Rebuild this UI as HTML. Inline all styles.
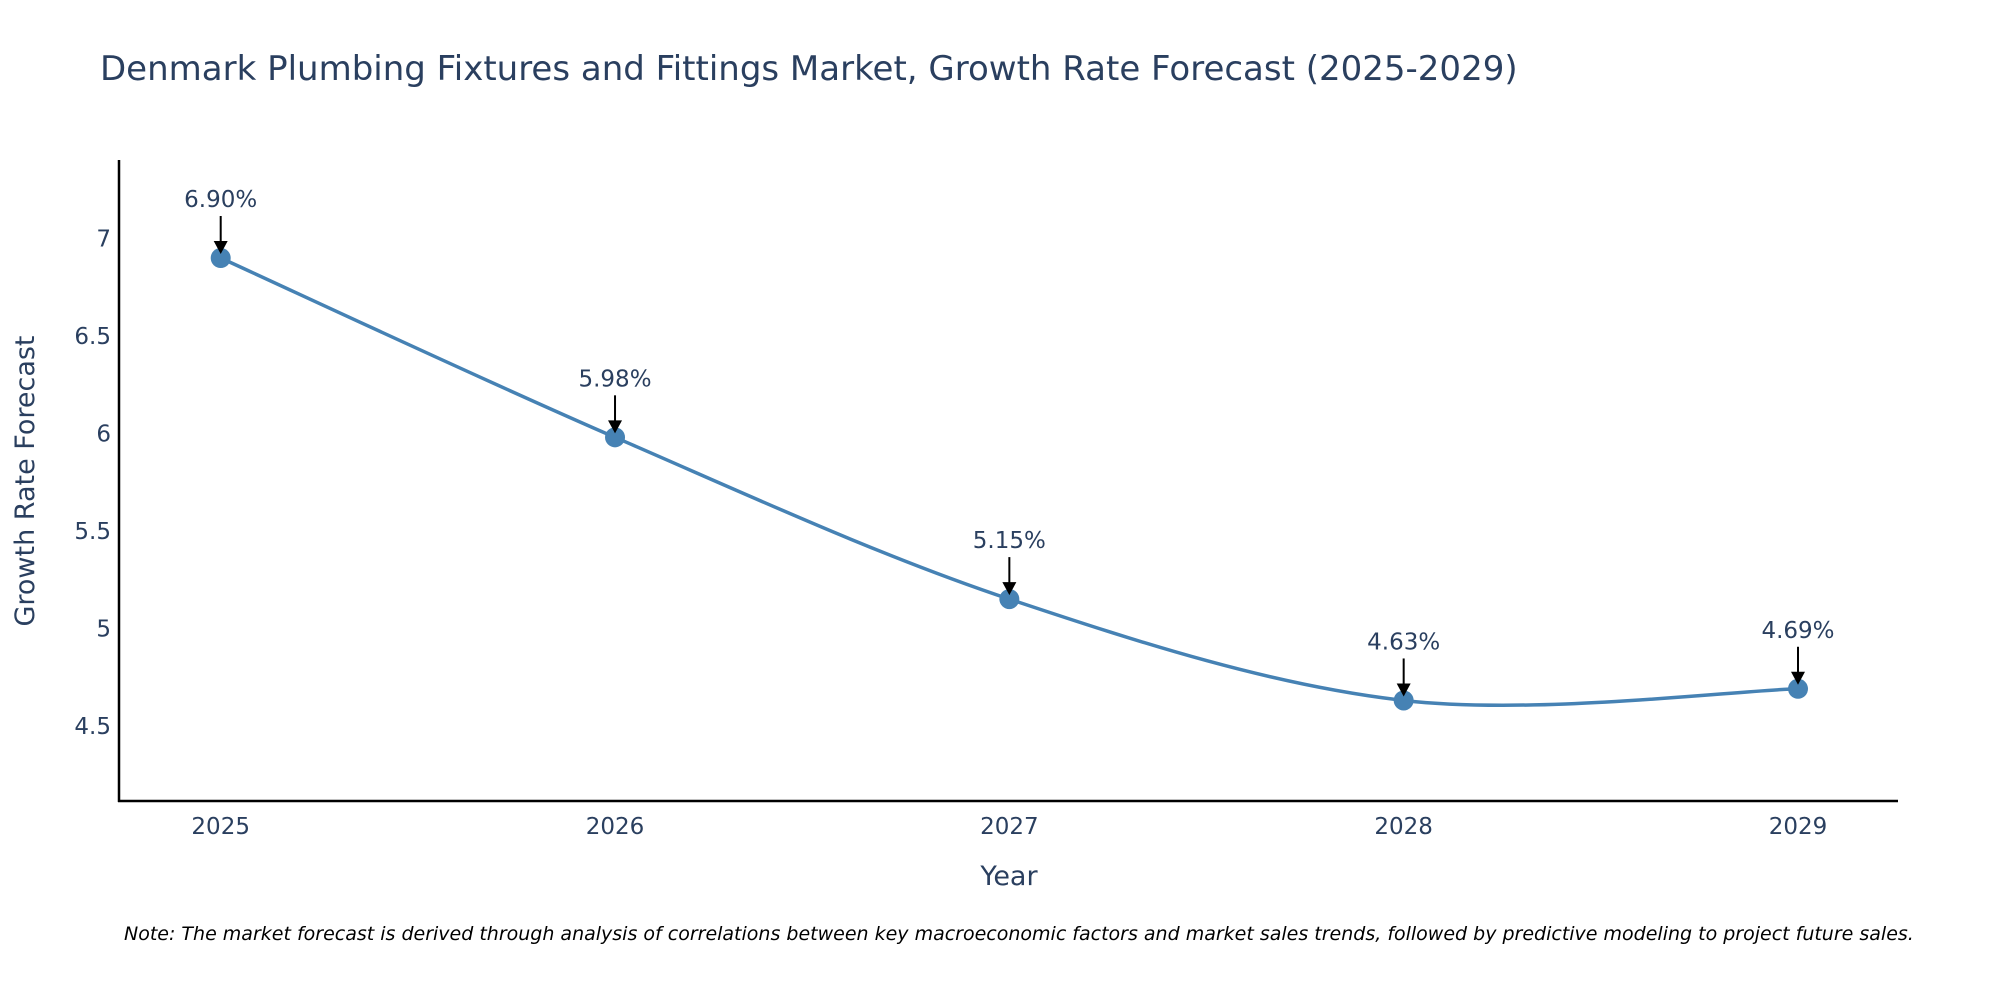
<!DOCTYPE html>
<html><head><meta charset="utf-8"><style>
html,body{margin:0;padding:0;background:#fff;}
svg{display:block;font-family:"DejaVu Sans","Liberation Sans",sans-serif;}
</style></head><body>
<svg id="chart" width="2000" height="1000" viewBox="0 0 2000 1000">
<text x="100" y="80" font-size="34" fill="#2a3f5f">Denmark Plumbing Fixtures and Fittings Market, Growth Rate Forecast (2025-2029)</text>
<g id="yticks"></g>
<g id="xticks"></g>
<line x1="119" y1="160" x2="119" y2="802" stroke="#000" stroke-width="2.5"/>
<line x1="118" y1="801" x2="1898" y2="801" stroke="#000" stroke-width="2.5"/>
<path id="line" fill="none" stroke="#4682b4" stroke-width="3.5"/>
<g id="marks"></g>
<text x="1009" y="885" font-size="27" fill="#2a3f5f" text-anchor="middle">Year</text>
<text transform="translate(34,481) rotate(-90)" font-size="27" fill="#2a3f5f" text-anchor="middle">Growth Rate Forecast</text>
<text x="124" y="940" font-size="19" font-style="italic" fill="#000">Note: The market forecast is derived through analysis of correlations between key macroeconomic factors and market sales trends, followed by predictive modeling to project future sales.</text>
</svg>
<script>
const years=[2025,2026,2027,2028,2029];
const values=[6.90,5.98,5.15,4.63,4.69];
const labels=["6.90%","5.98%","5.15%","4.63%","4.69%"];
const yTicks=[4.5,5,5.5,6,6.5,7];
const NS="http://www.w3.org/2000/svg";
const X=v=>220.7+(v-2025)*(1798-220.7)/4;
const Y=v=>725.8-(v-4.5)*(725.8-238.5)/2.5;
const svg=document.getElementById('chart');
function mk(tag,attrs,parent){const e=document.createElementNS(NS,tag);for(const k in attrs)e.setAttribute(k,attrs[k]);parent.appendChild(e);return e;}
const yt=document.getElementById('yticks');
yTicks.forEach(t=>{const e=mk('text',{x:111,y:Y(t)+8,'font-size':23,fill:'#2a3f5f','text-anchor':'end'},yt);


e.textContent=String(t);});
const xt=document.getElementById('xticks');
years.forEach(t=>{const e=mk('text',{x:X(t),y:834,'font-size':23,fill:'#2a3f5f','text-anchor':'middle'},xt);


e.textContent=String(t);});
const pts=years.map((y,i)=>[X(y),Y(values[i])]);
let d="M"+pts[0][0]+","+pts[0][1];
const s=0.5/3*2;
for(let i=0;i<pts.length-1;i++){const p0=pts[Math.max(i-1,0)],p1=pts[i],p2=pts[i+1],p3=pts[Math.min(i+2,pts.length-1)];
const c1=[p1[0]+(p2[0]-p0[0])*s/2,p1[1]+(p2[1]-p0[1])*s/2];
const c2=[p2[0]-(p3[0]-p1[0])*s/2,p2[1]-(p3[1]-p1[1])*s/2];
d+=" C"+c1+" "+c2+" "+p2;}
document.getElementById('line').setAttribute('d',d);
const mg=document.getElementById('marks');
pts.forEach((p,i)=>{
const c=mk('circle',{cx:p[0],cy:p[1],r:10,fill:'#4682b4'},mg);


const l=mk('line',{x1:p[0],y1:p[1]-42,x2:p[0],y2:p[1]-14,stroke:'#000','stroke-width':2},mg);


const h=mk('polygon',{points:(p[0]-7)+","+(p[1]-17)+" "+(p[0]+7)+","+(p[1]-17)+" "+p[0]+","+(p[1]-4),fill:'#000'},mg);


const t=mk('text',{x:p[0],y:p[1]-51,'font-size':23,fill:'#2a3f5f','text-anchor':'middle'},mg);


t.textContent=labels[i];});
</script>
</body></html>
